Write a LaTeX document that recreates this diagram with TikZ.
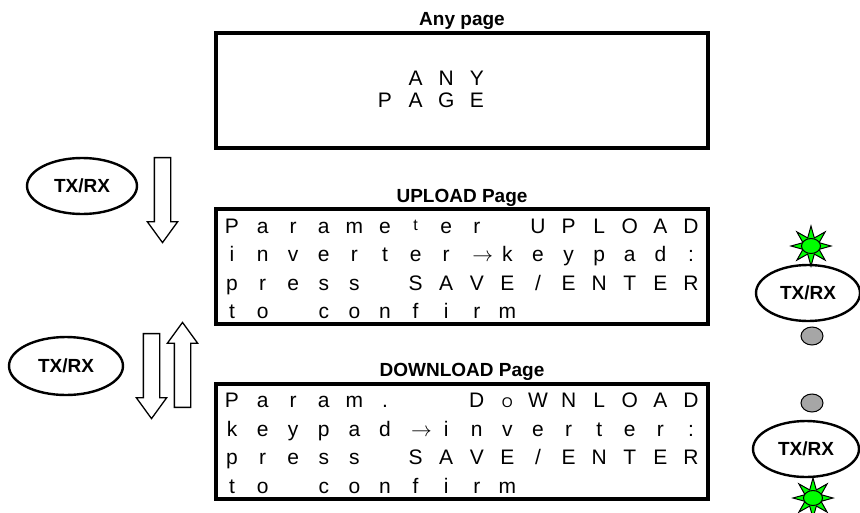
\documentclass[tikz,border=0pt]{standalone}
\usepackage{fontspec}
\setmainfont{Liberation Sans}
\usetikzlibrary{shapes.geometric,shapes.arrows}

\tikzset{
	lcdbox/.style = {draw, line width=3.5pt, minimum width=492pt, minimum height=115pt, inner sep=0pt},
	pagetitle/.style = {anchor=base, font=\fontsize{19}{19}\selectfont\bfseries},
	lcdchar/.style = {anchor=base, inner sep=0pt, font=\fontsize{21}{21}\selectfont},
	txrx/.style = {draw, ellipse, line width=2.4pt, minimum width=110pt, minimum height=56pt, inner sep=0pt, font=\fontsize{19}{19}\selectfont\bfseries},
	ledoff/.style = {draw, ellipse, fill=gray!70, line width=1pt, minimum width=22pt, minimum height=18pt, inner sep=0pt},
	ledrays/.style = {draw, star, star points=8, star point ratio=2.3, fill=green, line width=1pt, minimum size=40pt, inner sep=0pt},
	ledon/.style = {draw, ellipse, fill=green, line width=1pt, minimum width=19pt, minimum height=15pt, inner sep=0pt},
	blockarrow/.style = {draw, single arrow, line width=1.3pt, inner sep=0pt, text height=0pt, text depth=0pt,
		inner ysep=7.5pt, single arrow head extend=7pt, single arrow tip angle=72, minimum height=85pt}
}

% one row of the 16 character display
\newcommand{\lcdrow}[3]{%
	\foreach \c [count=\k from 0] in {#3}
		\node[lcdchar] (#1-\k) at (232+30.6*\k, #2) {\c};
}
\newcommand{\lcdarrow}{\kern12pt$\rightarrow$}

\begin{document}
\begin{tikzpicture}[x=1pt, y=-1pt]
	\useasboundingbox (0,0) rectangle (860,512);

	% pages
	\node[pagetitle] (anytitle) at (462,25) {Any page};
	\node[lcdbox] (anybox) at (462,90.5) {};
	\lcdrow{any1}{85.5}{,,,,,,A,N,Y}
	\lcdrow{any2}{107.5}{,,,,,P,A,G,E}

	\node[pagetitle] (uptitle) at (462,202) {UPLOAD Page};
	\node[lcdbox] (upbox) at (462,266.5) {};
	\lcdrow{up1}{233}{P,a,r,a,m,e,{\fontsize{16}{16}\selectfont\raisebox{3pt}{t}},e,r,,U,P,L,O,A,D}
	\lcdrow{up2}{261.5}{i,n,v,e,r,t,e,r,\lcdarrow,k,e,y,p,a,d,:}
	\lcdrow{up3}{290}{p,r,e,s,s,,S,A,V,E,/,E,N,T,E,R}
	\lcdrow{up4}{318.5}{t,o,,c,o,n,f,i,r,m}

	\node[pagetitle] (downtitle) at (462,376) {DOWNLOAD Page};
	\node[lcdbox] (downbox) at (462,441.5) {};
	\lcdrow{down1}{407.5}{P,a,r,a,m,.,,,D,{\fontsize{14}{14}\selectfont O},W,N,L,O,A,D}
	\lcdrow{down2}{436}{k,e,y,p,a,d,\lcdarrow,i,n,v,e,r,t,e,r,:}
	\lcdrow{down3}{464.5}{p,r,e,s,s,,S,A,V,E,/,E,N,T,E,R}
	\lcdrow{down4}{493}{t,o,,c,o,n,f,i,r,m}

	% keys and transfer arrows
	\node[txrx] (key1) at (82,186) {TX/RX};
	\node[blockarrow, rotate=-90] (go1) at (162.5,194.5) {};
	\node[txrx, minimum width=114pt, minimum height=58pt] (key2) at (66,366) {TX/RX};
	\node[blockarrow, rotate=-90] (go2) at (151.5,370.5) {};
	\node[blockarrow, rotate=90] (back2) at (182.5,370.5) {};

	% leds
	\node[ledrays] (rays1) at (811,246) {};
	\node[ledon] (led1) at (811,246) {};
	\node[txrx, minimum width=104pt] (key3) at (808,293) {TX/RX};
	\node[ledoff] (led2) at (812,336) {};
	\node[ledoff] (led3) at (812,403) {};
	\node[txrx, minimum width=106pt] (key4) at (806,449) {TX/RX};
	\node[ledrays] (rays4) at (813,498) {};
	\node[ledon] (led4) at (813,498) {};
\end{tikzpicture}
\end{document}
